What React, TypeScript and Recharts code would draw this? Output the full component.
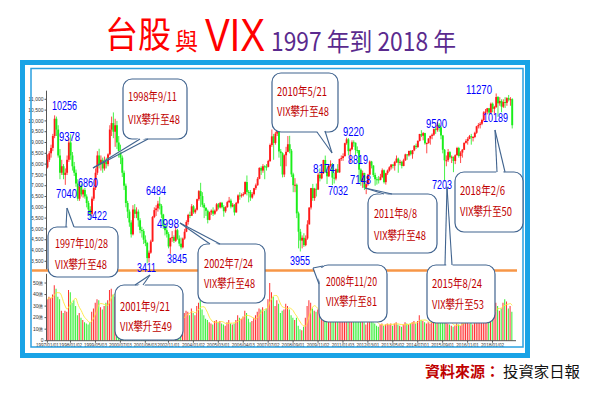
import React from "react";
import { Bar, Cell, ComposedChart, Line, XAxis, YAxis } from "recharts";

// monthly candles, 1997/01 .. 2018/10 (index = month number)
const START_OPEN = 7850;

const CLOSE = [
  8200, 8500, 8750, 9300, 10100, 9600, 8400, 7600, 7900, 7500, 7600, 8200,
  9000, 8400, 7900, 7600, 7100, 6400, 7000, 6600, 6800, 6500, 6200, 5900,
  5700, 6400, 6900, 7600, 8400, 8000, 8200, 7800, 8100, 8000, 8450, 9600,
  9900, 9500, 9800, 9000, 8600, 8300, 7600, 7000, 6200, 5800, 5300, 4750,
  5900, 5700, 5800, 5400, 4950, 4900, 4500, 4350, 3650, 3900, 4420, 5550,
  5870, 5950, 6170, 6070, 5670, 5150, 4940, 4760, 4190, 4580, 4620, 4450,
  4940, 4555, 4320, 4150, 4555, 4870, 5320, 5650, 5610, 6045, 5770, 5890,
  6375, 6750, 6520, 6120, 5980, 5840, 5420, 5765, 5845, 5705, 5845, 6140,
  5995, 6207, 6005, 5820, 6010, 6240, 6310, 6035, 6120, 5765, 6205, 6550,
  6530, 6580, 6615, 7170, 6715, 6705, 6455, 6610, 6885, 7020, 7320, 7825,
  7700, 7900, 7885, 7875, 8145, 8885, 9285, 8980, 9410, 9710, 8585, 8505,
  7520, 8410, 8570, 8920, 8620, 7525, 7025, 7045, 5720, 4870, 4460, 4590,
  4250, 4560, 5210, 5990, 6890, 6430, 6860, 6825, 7510, 7340, 7580, 8190,
  7640, 7435, 7920, 8005, 7375, 7330, 7760, 7615, 8240, 8285, 8370, 8970,
  9145, 8600, 8685, 9010, 8990, 8650, 8645, 7740, 7225, 7590, 6905, 7070,
  7515, 8120, 7935, 7500, 7300, 7295, 7270, 7400, 7715, 7165, 7580, 7700,
  7850, 7980, 7920, 8095, 8255, 8060, 8105, 7915, 8175, 8450, 8405, 8610,
  8460, 8640, 8850, 8790, 9075, 9395, 9315, 9435, 8965, 8975, 9185, 9305,
  9360, 9620, 9585, 9820, 9700, 9325, 8665, 8175, 8180, 8555, 8320, 8340,
  8145, 8410, 8745, 8375, 8535, 8665, 8985, 9070, 9165, 9290, 9240, 9255,
  9450, 9750, 9810, 9870, 10040, 10395, 10425, 10585, 10385, 10795, 10560, 10645,
  11105, 10815, 10920, 10660, 10875, 10835, 11055, 10990, 11005, 9800,
];

const HIGH = [
  8450, 8600, 8900, 9400, 10256, 10200, 9800, 8700, 8200, 8000, 7800, 8400,
  9200, 9378, 8560, 8100, 7750, 7300, 7150, 7100, 6860, 6900, 6600, 6300,
  6050, 6500, 7000, 7800, 8600, 8710, 8400, 8300, 8350, 8300, 8500, 9800,
  10200, 10393, 10100, 10000, 9300, 8900, 8400, 7700, 7100, 6300, 5900, 5400,
  6100, 6150, 6000, 5900, 5500, 5100, 5000, 4700, 4400, 4000, 4500, 5600,
  6000, 6100, 6300, 6484, 6150, 5700, 5250, 5100, 4850, 4600, 4900, 4700,
  5140, 5000, 4700, 4600, 4600, 5000, 5400, 5700, 5800, 6150, 6100, 5950,
  6400, 6800, 7135, 6700, 6200, 6000, 5900, 5800, 5900, 6000, 5900, 6200,
  6200, 6250, 6250, 6100, 6050, 6300, 6480, 6400, 6200, 6150, 6250, 6600,
  6700, 6650, 6700, 7200, 7475, 6800, 6800, 6700, 6900, 7100, 7400, 7850,
  7900, 8000, 7950, 8000, 8200, 8950, 9600, 9400, 9500, 9859, 9750, 8700,
  8550, 8450, 8800, 9300, 9310, 8700, 7600, 7350, 7100, 5800, 5000, 4700,
  4800, 4700, 5400, 6000, 6900, 7084, 6900, 7100, 7600, 7800, 7700, 8200,
  8395, 7800, 7950, 8174, 8050, 7600, 7800, 8000, 8250, 8400, 8500, 8990,
  9220, 9200, 8750, 9100, 9100, 9000, 8819, 8650, 7800, 7700, 7600, 7150,
  7550, 8170, 8150, 7950, 7600, 7400, 7450, 7550, 7800, 7750, 7600, 7750,
  7900, 8000, 8000, 8150, 8400, 8300, 8200, 8150, 8250, 8480, 8460, 8620,
  8650, 8650, 8880, 8950, 9100, 9400, 9570, 9480, 9450, 9000, 9200, 9320,
  9420, 9650, 9700, 9950, 9900, 9750, 9350, 8700, 8400, 8700, 8600, 8400,
  8350, 8450, 8800, 8800, 8600, 8700, 9000, 9150, 9250, 9350, 9400, 9300,
  9500, 9770, 9900, 9950, 10100, 10450, 10550, 10600, 10600, 10850, 10850, 10700,
  11270, 11150, 11100, 11000, 11000, 11100, 11100, 11200, 11100, 11050,
];

const LOW = [
  7800, 8100, 8300, 8600, 9200, 9300, 8300, 7300, 7500, 7300, 7040, 7500,
  8100, 8200, 7700, 7450, 6950, 6300, 6300, 6500, 6450, 6400, 6000, 5700,
  5422, 5600, 6300, 6800, 7500, 7800, 7700, 7600, 7700, 7800, 7900, 8400,
  9300, 9200, 8800, 8700, 8300, 8000, 7400, 6800, 6000, 5500, 5100, 4600,
  4700, 5500, 5500, 5100, 4800, 4600, 4300, 4200, 3411, 3450, 3850, 4400,
  5500, 5600, 5800, 5900, 5500, 5000, 4700, 4600, 4100, 3845, 4400, 4350,
  4400, 4500, 4200, 4044, 4100, 4500, 4850, 5200, 5500, 5600, 5700, 5700,
  5850, 6300, 6020, 6000, 5500, 5600, 5255, 5400, 5650, 5600, 5650, 5800,
  5900, 5950, 5950, 5565, 5750, 5980, 6200, 5950, 6000, 5620, 5750, 6150,
  6350, 6450, 6500, 6600, 6550, 6230, 6300, 6400, 6550, 6800, 7000, 7300,
  7500, 7600, 7300, 7700, 7850, 8100, 8800, 8200, 8900, 9300, 8300, 7900,
  7384, 7400, 7900, 8550, 8500, 7400, 6700, 6700, 5500, 4100, 3955, 4100,
  4164, 4200, 4500, 5200, 5900, 6300, 6300, 6500, 6800, 7200, 7300, 7550,
  7600, 7080, 7400, 7850, 7032, 7100, 7250, 7600, 7600, 8150, 8150, 8350,
  8900, 8400, 8070, 8650, 8800, 8400, 8500, 7148, 7000, 6900, 6800, 6609,
  7000, 7500, 7800, 7400, 7000, 7050, 7100, 7250, 7350, 7100, 7050, 7500,
  7650, 7750, 7800, 7700, 8050, 7600, 7950, 7800, 7900, 8150, 8200, 8350,
  8400, 8250, 8600, 8700, 8750, 9050, 9250, 9100, 8900, 8500, 8950, 8900,
  9150, 9300, 9400, 9500, 9500, 9150, 8500, 7203, 7900, 8100, 8250, 8050,
  7627, 8000, 8400, 8300, 8050, 8300, 8650, 8950, 8900, 9150, 8900, 9050,
  9200, 9400, 9650, 9650, 9800, 10000, 10300, 10300, 10300, 10350, 10400, 10300,
  10600, 10189, 10700, 10400, 10600, 10600, 10700, 10900, 10700, 9650,
];

// trading value (億)
const VOLUME = [
  36, 38, 37, 40, 48, 45, 38, 36, 26, 24, 26, 25,
  44, 42, 33, 35, 30, 22, 24, 20, 18, 16, 15, 14,
  16, 25, 28, 33, 36, 35, 29, 27, 30, 33, 35, 44,
  45, 40, 38, 32, 28, 25, 27, 24, 22, 26, 20, 18,
  30, 27, 22, 20, 18, 15, 14, 13, 15, 18, 25, 32,
  34, 30, 33, 35, 26, 22, 20, 18, 16, 20, 22, 18,
  21, 19, 17, 19, 22, 24, 26, 25, 22, 28, 24, 22,
  30, 33, 35, 27, 22, 19, 18, 16, 15, 14, 17, 18,
  16, 17, 15, 14, 13, 16, 18, 15, 14, 15, 18, 22,
  20, 19, 21, 26, 24, 19, 16, 17, 20, 22, 25, 28,
  27, 29, 26, 28, 36, 50, 42, 38, 30, 35, 32, 24,
  26, 27, 32, 30, 27, 22, 20, 18, 20, 13, 10, 9,
  12, 20, 30, 35, 33, 28, 26, 25, 27, 24, 23, 26,
  24, 20, 22, 25, 22, 18, 19, 18, 21, 23, 24, 25,
  26, 22, 20, 21, 19, 17, 18, 25, 19, 17, 16, 14,
  16, 20, 19, 16, 15, 13, 12, 14, 15, 13, 14, 15,
  14, 15, 13, 15, 16, 14, 13, 12, 14, 16, 15, 14,
  15, 16, 17, 15, 17, 22, 18, 17, 16, 15, 16, 15,
  17, 18, 19, 20, 17, 16, 18, 22, 16, 15, 14, 13,
  12, 13, 15, 14, 13, 16, 18, 17, 16, 15, 16, 14,
  17, 18, 20, 19, 21, 24, 22, 23, 22, 25, 27, 24,
  33, 30, 26, 28, 33, 36, 34, 28, 30, 25,
];

const TICK_INDEX = [0, 13, 27, 41, 55, 68, 82, 96, 110, 124, 138, 152, 166, 180, 194, 208, 222, 236, 250];
const TICK_LABELS = [
  "1997/01/01", "1998/01/02", "1999/05/03", "2000/07/03", "2001/08/03", "2002/11/01",
  "2004/01/02", "2005/03/01", "2006/04/03", "2007/07/02", "2008/09/01", "2009/11/02",
  "2011/01/03", "2012/03/01", "2013/05/02", "2014/07/01", "2015/09/01", "2016/11/01",
  "2018/01/02",
];
const PRICE_TICKS = [3500, 4000, 4500, 5000, 5500, 6000, 6500, 7000, 7500, 8000, 8500, 9000, 9500, 10000, 10500, 11000];
const VOL_TICKS = [0, 10, 20, 30, 40, 50];
const MA_SPAN = 5;

const RED = "#ff1a1a";
const GREEN = "#1aee1a";
const EDGE = "#41648f";
const NOTE_RED = "#c00000";
const CJK = "'Noto Sans CJK TC', 'Noto Sans CJK SC', sans-serif";

const rows = CLOSE.map((close, i) => {
  const open = i === 0 ? START_OPEN : CLOSE[i - 1];
  const win = VOLUME.slice(Math.max(0, i - MA_SPAN + 1), i + 1);
  return {
    i,
    open,
    close,
    high: HIGH[i],
    low: LOW[i],
    range: [LOW[i], HIGH[i]],
    vol: VOLUME[i],
    ma: win.reduce((a, b) => a + b, 0) / win.length,
    up: close >= open,
  };
});

function Candle(props: any) {
  const { x, y, width, height, payload } = props;
  if (x == null || !payload) return null;
  const { open, close, high, low } = payload;
  const h = Math.abs(height);
  const top = height < 0 ? y + height : y;
  const span = high - low || 1;
  const py = (v: number) => top + ((high - v) / span) * h;
  const color = close >= open ? RED : GREEN;
  const cx = x + width / 2;
  const bw = Math.max(width * 0.95, 1.4);
  const bTop = py(Math.max(open, close));
  const bBot = py(Math.min(open, close));
  return (
    <g>
      <line x1={cx} x2={cx} y1={top} y2={top + h} stroke={color} strokeWidth={0.8} />
      <rect x={cx - bw / 2} y={bTop} width={bw} height={Math.max(1, bBot - bTop)} fill={color} />
    </g>
  );
}

type Note = {
  x: number; y: number; w: number; h: number;
  b1: number[]; b2: number[]; tip: number[];
  l1: string; l2: string; tx: number; y1: number; y2: number; w1: number; w2: number;
};

const NOTES: Note[] = [
  { x: 123, y: 79, w: 64, h: 60, b1: [140, 139], b2: [148, 139], tip: [93, 168], l1: "1998年9/11", l2: "VIX攀升至48", tx: 128, y1: 101, y2: 123.5, w1: 49, w2: 52 },
  { x: 48, y: 227, w: 70, h: 50, b1: [66, 227], b2: [74, 227], tip: [67, 208], l1: "1997年10/28", l2: "VIX攀升至48", tx: 55, y1: 248, y2: 269, w1: 53, w2: 52 },
  { x: 115, y: 285, w: 68, h: 55, b1: [135, 285], b2: [143, 285], tip: [150, 275], l1: "2001年9/21", l2: "VIX攀升至49", tx: 120, y1: 311, y2: 331, w1: 50, w2: 52 },
  { x: 198, y: 244, w: 67, h: 59, b1: [210, 244], b2: [220, 244], tip: [180, 223], l1: "2002年7/24", l2: "VIX攀升至48", tx: 204, y1: 268, y2: 288, w1: 49, w2: 51 },
  { x: 319, y: 265, w: 68, h: 57, b1: [319, 284], b2: [323, 266], tip: [313, 268], l1: "2008年11/20", l2: "VIX攀升至81", tx: 326, y1: 286, y2: 306, w1: 51, w2: 51 },
  { x: 272, y: 73, w: 66, h: 59, b1: [317, 132], b2: [325, 131], tip: [332, 153], l1: "2010年5/21", l2: "VIX攀升至48", tx: 277, y1: 96, y2: 116, w1: 50, w2: 52 },
  { x: 368, y: 194, w: 69, h: 59, b1: [384, 194], b2: [392, 194], tip: [365, 188], l1: "2011年8/8", l2: "VIX攀升至48", tx: 374, y1: 218, y2: 240, w1: 43, w2: 52 },
  { x: 427, y: 265, w: 68, h: 58, b1: [445, 265], b2: [452, 265], tip: [447, 187], l1: "2015年8/24", l2: "VIX攀升至53", tx: 432, y1: 288, y2: 309, w1: 50, w2: 52 },
  { x: 455, y: 172, w: 68, h: 60, b1: [497, 172], b2: [505, 172], tip: [495, 130], l1: "2018年2/6", l2: "VIX攀升至50", tx: 460, y1: 195, y2: 216, w1: 45, w2: 52 },
];

const POINT_LABELS = [
  { t: "10256", x: 52, y: 110, w: 25 },
  { t: "9378", x: 59, y: 141, w: 21 },
  { t: "6860", x: 78, y: 187, w: 20 },
  { t: "7040", x: 56, y: 198, w: 21 },
  { t: "5422", x: 87, y: 220, w: 20 },
  { t: "6484", x: 146, y: 195, w: 20 },
  { t: "4998", x: 157, y: 228, w: 22 },
  { t: "3845", x: 167, y: 263, w: 20 },
  { t: "3411", x: 137, y: 272, w: 19 },
  { t: "3955", x: 290, y: 265, w: 20 },
  { t: "8174", x: 313, y: 173, w: 22 },
  { t: "7032", x: 328, y: 195, w: 20 },
  { t: "9220", x: 343, y: 136, w: 21 },
  { t: "8819", x: 348, y: 164, w: 20 },
  { t: "7148", x: 350, y: 184, w: 21 },
  { t: "9500", x: 426, y: 128, w: 21 },
  { t: "7203", x: 432, y: 189, w: 20 },
  { t: "11270", x: 466, y: 94, w: 26 },
  { t: "10189", x: 483, y: 122, w: 25 },
];

function Bubble({ n }: { n: Note }) {
  const cx = n.x + n.w / 2;
  const cy = n.y + n.h / 2;
  const inward = (p: number[]) => {
    const dx = cx - p[0];
    const dy = cy - p[1];
    const d = Math.hypot(dx, dy) || 1;
    return [p[0] + (dx / d) * 2.5, p[1] + (dy / d) * 2.5];
  };
  const a = inward(n.b1);
  const b = inward(n.b2);
  return (
    <g>
      <rect x={n.x} y={n.y} width={n.w} height={n.h} rx={9} fill="#fff" stroke={EDGE} strokeWidth={1.2} />
      <polygon points={`${a[0]},${a[1]} ${n.tip[0]},${n.tip[1]} ${b[0]},${b[1]}`} fill="#fff" />
      <line x1={n.b1[0]} y1={n.b1[1]} x2={n.tip[0]} y2={n.tip[1]} stroke={EDGE} strokeWidth={1.1} />
      <line x1={n.b2[0]} y1={n.b2[1]} x2={n.tip[0]} y2={n.tip[1]} stroke={EDGE} strokeWidth={1.1} />
      <text x={n.tx} y={n.y1} fontSize={12} fill={NOTE_RED} fontFamily={CJK} textLength={n.w1} lengthAdjust="spacingAndGlyphs">{n.l1}</text>
      <text x={n.tx} y={n.y2} fontSize={12} fill={NOTE_RED} fontFamily={CJK} textLength={n.w2} lengthAdjust="spacingAndGlyphs">{n.l2}</text>
    </g>
  );
}

const axisTick = { fontSize: 5, fill: "#333", fontFamily: "'Liberation Sans', Arial, sans-serif" };

export default function App() {
  return (
    <div style={{ position: "absolute", left: 0, top: 0, width: 600, height: 396, background: "#fff", overflow: "hidden" }}>
      <div style={{ position: "absolute", left: 0, top: 0 }}>
        <ComposedChart width={600} height={272} data={rows} barCategoryGap={0} margin={{ top: 90.66, right: 84, bottom: 1.6, left: 26.5 }}>
          <XAxis dataKey="i" hide padding={{ left: 0, right: 3 }} />
          <YAxis
            domain={[3080, 11400]}
            ticks={PRICE_TICKS}
            allowDataOverflow
            width={20}
            tickSize={2}
            tickMargin={1}
            interval={0}
            stroke="#555"
            tick={axisTick}
            tickFormatter={(v: number) => v.toLocaleString("en-US")}
          />
          <Bar dataKey="range" shape={(p: any) => <Candle {...p} />} isAnimationActive={false} />
        </ComposedChart>
      </div>
      <div style={{ position: "absolute", left: 0, top: 272 }}>
        <ComposedChart width={600} height={84} data={rows} barCategoryGap="8%" margin={{ top: 1.8, right: 84, bottom: 0, left: 26.5 }}>
          <XAxis
            dataKey="i"
            ticks={TICK_INDEX}
            interval={0}
            height={15.3}
            tickSize={2}
            tickMargin={1}
            stroke="#555"
            padding={{ left: 0, right: 3 }}
            tick={{ ...axisTick, fontSize: 4.6 }}
            tickFormatter={(v: number) => TICK_LABELS[TICK_INDEX.indexOf(v)] ?? ""}
          />
          <YAxis
            domain={[0, 58]}
            ticks={VOL_TICKS}
            width={20}
            tickSize={2}
            tickMargin={1}
            interval={0}
            stroke="#555"
            tick={axisTick}
            tickFormatter={(v: number) => (v === 0 ? "0" : `${v}億`)}
          />
          <Bar dataKey="vol" isAnimationActive={false}>
            {rows.map((r) => (
              <Cell key={r.i} fill={r.up ? "#ff3030" : "#33ee33"} />
            ))}
          </Bar>
          <Line dataKey="ma" type="monotone" stroke="#ffe83a" strokeWidth={0.9} dot={false} isAnimationActive={false} />
        </ComposedChart>
      </div>
      <svg width={600} height={396} style={{ position: "absolute", left: 0, top: 0, pointerEvents: "none" }}>
        <rect x={22.5} y={62.5} width={505} height={293} fill="none" stroke="#19a3e6" strokeWidth={5} />
        <rect x={31} y={68.5} width={492} height={278.5} fill="none" stroke="#2aa0e0" strokeWidth={1.5} />
        <line x1={32} x2={517} y1={270.5} y2={270.5} stroke="#f79646" strokeWidth={2.5} />

        <text x={105} y={48} fontSize={36} fill="#ff0000" fontFamily={CJK} textLength={66} lengthAdjust="spacingAndGlyphs">台股</text>
        <text x={175} y={50} fontSize={24} fill="#ff0000" fontFamily={CJK} textLength={23} lengthAdjust="spacingAndGlyphs">與</text>
        <text x={205} y={51} fontSize={47} fill="#ff0000" fontFamily="'Liberation Sans', Arial, sans-serif" textLength={60} lengthAdjust="spacingAndGlyphs">VIX</text>
        <text x={271} y={51} fontSize={25} fill="#5a2a8e" fontFamily={CJK} textLength={185} lengthAdjust="spacingAndGlyphs">1997 年到 2018 年</text>

        {POINT_LABELS.map((p) => (
          <text key={p.t} x={p.x} y={p.y} fontSize={12} fill="#0000ff" fontFamily="'Liberation Sans', Arial, sans-serif" textLength={p.w} lengthAdjust="spacingAndGlyphs">
            {p.t}
          </text>
        ))}

        {NOTES.map((n) => (
          <Bubble key={n.l1} n={n} />
        ))}

        <text x={425} y={377} fontSize={15} fontWeight="bold" fill={NOTE_RED} fontFamily={CJK} textLength={75} lengthAdjust="spacingAndGlyphs">資料來源：</text>
        <text x={503} y={377} fontSize={15} fill="#111" fontFamily={CJK} textLength={77} lengthAdjust="spacingAndGlyphs">投資家日報</text>
      </svg>
    </div>
  );
}
